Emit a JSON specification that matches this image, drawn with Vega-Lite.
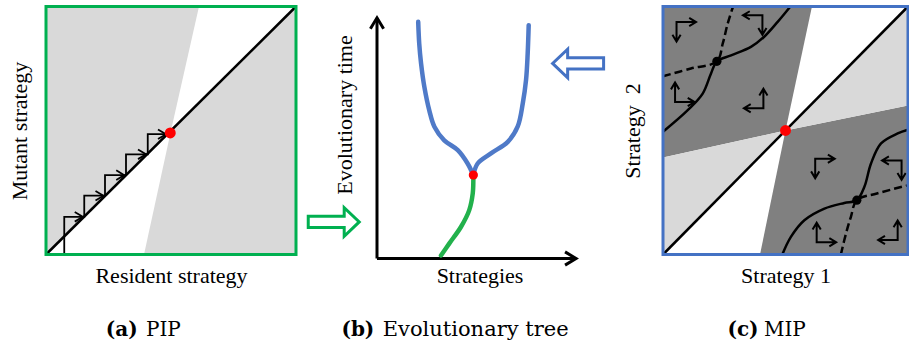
{
  "$schema": "https://vega.github.io/schema/vega-lite/v6.json",
  "background": "white",
  "padding": {"left": 8, "top": 1.5, "right": 0, "bottom": 0},
  "bounds": "flush",
  "spacing": 81,
  "config": {
    "view": {"stroke": null},
    "axis": {"domain": false, "ticks": false, "labels": false, "grid": false, "titleFont": "Liberation Serif, Times New Roman, serif", "titleFontSize": 22, "titleFontWeight": "normal", "titleColor": "black", "titleLimit": 400}
  },
  "datasets": {
    "pipShade": [
      {"g": "L", "i": 0, "x": 0, "y": 0}, {"g": "L", "i": 1, "x": 0, "y": 1}, {"g": "L", "i": 2, "x": 0.612, "y": 1}, {"g": "L", "i": 3, "x": 0.5, "y": 0.5},
      {"g": "R", "i": 0, "x": 0.392, "y": 0}, {"g": "R", "i": 1, "x": 1, "y": 0}, {"g": "R", "i": 2, "x": 1, "y": 1}, {"g": "R", "i": 3, "x": 0.5, "y": 0.5}
    ],
    "diag": [{"x": 0, "y": 0}, {"x": 1, "y": 1}],
    "pipStairs": [
      {"i": 0, "x": 0.073, "y": 0}, {"i": 1, "x": 0.073, "y": 0.152}, {"i": 2, "x": 0.153, "y": 0.152}, {"i": 3, "x": 0.153, "y": 0.237},
      {"i": 4, "x": 0.236, "y": 0.237}, {"i": 5, "x": 0.236, "y": 0.32}, {"i": 6, "x": 0.32, "y": 0.32}, {"i": 7, "x": 0.32, "y": 0.404},
      {"i": 8, "x": 0.407, "y": 0.404}, {"i": 9, "x": 0.407, "y": 0.485}, {"i": 10, "x": 0.48, "y": 0.485}
    ],
    "pipHeads": [
      {"x": 0.147, "y": 0.152}, {"x": 0.23, "y": 0.237}, {"x": 0.313, "y": 0.32}, {"x": 0.4, "y": 0.404}, {"x": 0.48, "y": 0.485}
    ],
    "pipSingular": [{"x": 0.497, "y": 0.49}],
    "treeGreen": [
      {"i": 0, "x": 0.312, "y": 0.012}, {"i": 1, "x": 0.353, "y": 0.06}, {"i": 2, "x": 0.41, "y": 0.126}, {"i": 3, "x": 0.45, "y": 0.192},
      {"i": 4, "x": 0.467, "y": 0.258}, {"i": 5, "x": 0.47, "y": 0.311}, {"i": 6, "x": 0.47, "y": 0.331}
    ],
    "treeBlue": [
      {"b": "L", "i": 0, "x": 0.47, "y": 0.331}, {"b": "L", "i": 1, "x": 0.442, "y": 0.377}, {"b": "L", "i": 2, "x": 0.394, "y": 0.43},
      {"b": "L", "i": 3, "x": 0.328, "y": 0.469}, {"b": "L", "i": 4, "x": 0.28, "y": 0.523}, {"b": "L", "i": 5, "x": 0.255, "y": 0.588},
      {"b": "L", "i": 6, "x": 0.231, "y": 0.681}, {"b": "L", "i": 7, "x": 0.215, "y": 0.774}, {"b": "L", "i": 8, "x": 0.206, "y": 0.853},
      {"b": "L", "i": 9, "x": 0.201, "y": 0.939},
      {"b": "R", "i": 0, "x": 0.47, "y": 0.331}, {"b": "R", "i": 1, "x": 0.491, "y": 0.377}, {"b": "R", "i": 2, "x": 0.556, "y": 0.417},
      {"b": "R", "i": 3, "x": 0.638, "y": 0.463}, {"b": "R", "i": 4, "x": 0.686, "y": 0.523}, {"b": "R", "i": 5, "x": 0.711, "y": 0.615},
      {"b": "R", "i": 6, "x": 0.727, "y": 0.708}, {"b": "R", "i": 7, "x": 0.735, "y": 0.813}, {"b": "R", "i": 8, "x": 0.74, "y": 0.926}
    ],
    "treeAxes": [
      {"g": "v", "i": 0, "x": 0, "y": 0}, {"g": "v", "i": 1, "x": 0, "y": 0.955},
      {"g": "h", "i": 0, "x": 0, "y": 0}, {"g": "h", "i": 1, "x": 0.971, "y": 0}
    ],
    "treeAxisHeads": [{"x": 0, "y": 0.955, "a": 270}, {"x": 0.971, "y": 0, "a": 0}],
    "treeSingular": [{"x": 0.47, "y": 0.331}],
    "greenArrow": [{"x": -0.211, "y": 0.145, "a": 0}],
    "blueArrow": [{"x": 0.981, "y": 0.774, "a": 180}],
    "mipDark": [
      {"g": "UL", "i": 0, "x": 0, "y": 0.391}, {"g": "UL", "i": 1, "x": 0, "y": 1}, {"g": "UL", "i": 2, "x": 0.608, "y": 1}, {"g": "UL", "i": 3, "x": 0.5, "y": 0.5},
      {"g": "LR", "i": 0, "x": 0.396, "y": 0}, {"g": "LR", "i": 1, "x": 1, "y": 0}, {"g": "LR", "i": 2, "x": 1, "y": 0.601}, {"g": "LR", "i": 3, "x": 0.5, "y": 0.5}
    ],
    "mipLight": [
      {"g": "L", "i": 0, "x": 0, "y": 0}, {"g": "L", "i": 1, "x": 0, "y": 0.391}, {"g": "L", "i": 2, "x": 0.5, "y": 0.5},
      {"g": "R", "i": 0, "x": 0.5, "y": 0.5}, {"g": "R", "i": 1, "x": 1, "y": 1}, {"g": "R", "i": 2, "x": 1, "y": 0.601}
    ],
    "mipSolid": [
      {"c": "UL", "i": 0, "x": 0, "y": 0.495}, {"c": "UL", "i": 1, "x": 0.101, "y": 0.582}, {"c": "UL", "i": 2, "x": 0.162, "y": 0.649},
      {"c": "UL", "i": 3, "x": 0.196, "y": 0.73}, {"c": "UL", "i": 4, "x": 0.22, "y": 0.779}, {"c": "UL", "i": 5, "x": 0.278, "y": 0.803},
      {"c": "UL", "i": 6, "x": 0.359, "y": 0.837}, {"c": "UL", "i": 7, "x": 0.413, "y": 0.878}, {"c": "UL", "i": 8, "x": 0.468, "y": 0.938},
      {"c": "UL", "i": 9, "x": 0.52, "y": 1},
      {"c": "LR", "i": 0, "x": 0.487, "y": 0}, {"c": "LR", "i": 1, "x": 0.522, "y": 0.071}, {"c": "LR", "i": 2, "x": 0.577, "y": 0.138},
      {"c": "LR", "i": 3, "x": 0.659, "y": 0.185}, {"c": "LR", "i": 4, "x": 0.74, "y": 0.208}, {"c": "LR", "i": 5, "x": 0.791, "y": 0.219},
      {"c": "LR", "i": 6, "x": 0.822, "y": 0.273}, {"c": "LR", "i": 7, "x": 0.849, "y": 0.367}, {"c": "LR", "i": 8, "x": 0.89, "y": 0.448},
      {"c": "LR", "i": 9, "x": 0.958, "y": 0.488}, {"c": "LR", "i": 10, "x": 1, "y": 0.503}
    ],
    "mipDashed": [
      {"c": "UL", "i": 0, "x": 0, "y": 0.719}, {"c": "UL", "i": 1, "x": 0.114, "y": 0.75}, {"c": "UL", "i": 2, "x": 0.22, "y": 0.779},
      {"c": "UL", "i": 3, "x": 0.244, "y": 0.851}, {"c": "UL", "i": 4, "x": 0.264, "y": 0.931}, {"c": "UL", "i": 5, "x": 0.286, "y": 1},
      {"c": "LR", "i": 0, "x": 0.726, "y": 0}, {"c": "LR", "i": 1, "x": 0.747, "y": 0.085}, {"c": "LR", "i": 2, "x": 0.767, "y": 0.152},
      {"c": "LR", "i": 3, "x": 0.791, "y": 0.219}, {"c": "LR", "i": 4, "x": 0.873, "y": 0.246}, {"c": "LR", "i": 5, "x": 1, "y": 0.279}
    ],
    "mipEquilibria": [{"x": 0.22, "y": 0.779}, {"x": 0.791, "y": 0.219}],
    "mipSingular": [{"x": 0.5, "y": 0.5}],
    "mipGlyphs": [
      {"x": 0.095, "y": 0.898, "a": 90}, {"x": 0.366, "y": 0.925, "a": 180}, {"x": 0.089, "y": 0.654, "a": 0}, {"x": 0.37, "y": 0.629, "a": 270},
      {"x": 0.661, "y": 0.347, "a": 90}, {"x": 0.934, "y": 0.34, "a": 180}, {"x": 0.667, "y": 0.089, "a": 0}, {"x": 0.918, "y": 0.098, "a": 270}
    ],
    "frame": [{"part": "frame"}],
    "capA1": [{"label": "(a)"}], "capA2": [{"label": "PIP"}],
    "capB1": [{"label": "(b)"}], "capB2": [{"label": "Evolutionary tree"}],
    "capC1": [{"label": "(c)"}], "capC2": [{"label": "MIP"}]
  },
  "hconcat": [
    {
      "width": 250,
      "height": 248,
      "layer": [
        {"data": {"name": "pipShade"}, "mark": {"type": "line", "fill": "#d9d9d9", "stroke": null, "strokeWidth": 0, "interpolate": "linear-closed"},
         "encoding": {"x": {"field": "x", "type": "quantitative", "scale": {"domain": [0, 1], "nice": false, "zero": false}, "axis": {"title": "Resident strategy", "titlePadding": 11}},
                      "y": {"field": "y", "type": "quantitative", "scale": {"domain": [0, 1], "nice": false, "zero": false}, "axis": {"title": "Mutant strategy", "titlePadding": 15}},
                      "detail": {"field": "g"}, "order": {"field": "i"}}},
        {"data": {"name": "diag"}, "mark": {"type": "line", "color": "black", "strokeWidth": 2.5},
         "encoding": {"x": {"field": "x", "type": "quantitative", "scale": {"domain": [0, 1], "nice": false, "zero": false}, "axis": {"title": "Resident strategy", "titlePadding": 11}},
                      "y": {"field": "y", "type": "quantitative", "scale": {"domain": [0, 1], "nice": false, "zero": false}, "axis": {"title": "Mutant strategy", "titlePadding": 15}}}},
        {"data": {"name": "pipStairs"}, "mark": {"type": "line", "color": "black", "strokeWidth": 1.8},
         "encoding": {"x": {"field": "x", "type": "quantitative", "scale": {"domain": [0, 1], "nice": false, "zero": false}, "axis": {"title": "Resident strategy", "titlePadding": 11}},
                      "y": {"field": "y", "type": "quantitative", "scale": {"domain": [0, 1], "nice": false, "zero": false}, "axis": {"title": "Mutant strategy", "titlePadding": 15}},
                      "order": {"field": "i"}}},
        {"data": {"name": "pipHeads"}, "mark": {"type": "point", "shape": "M-1,-0.6L0,0L-1,0.6", "size": 256, "filled": false, "stroke": "black", "strokeWidth": 1.8, "opacity": 1},
         "encoding": {"x": {"field": "x", "type": "quantitative", "scale": {"domain": [0, 1], "nice": false, "zero": false}, "axis": {"title": "Resident strategy", "titlePadding": 11}},
                      "y": {"field": "y", "type": "quantitative", "scale": {"domain": [0, 1], "nice": false, "zero": false}, "axis": {"title": "Mutant strategy", "titlePadding": 15}}}},
        {"data": {"name": "pipSingular"}, "mark": {"type": "point", "shape": "circle", "filled": true, "color": "#ff0000", "size": 120, "opacity": 1},
         "encoding": {"x": {"field": "x", "type": "quantitative", "scale": {"domain": [0, 1], "nice": false, "zero": false}, "axis": {"title": "Resident strategy", "titlePadding": 11}},
                      "y": {"field": "y", "type": "quantitative", "scale": {"domain": [0, 1], "nice": false, "zero": false}, "axis": {"title": "Mutant strategy", "titlePadding": 15}}}},
        {"data": {"name": "frame"}, "mark": {"type": "rect", "fill": null, "stroke": "#00b050", "strokeWidth": 3},
         "encoding": {"x": {"datum": 0, "type": "quantitative", "scale": {"domain": [0, 1], "nice": false, "zero": false}, "axis": {"title": "Resident strategy", "titlePadding": 11}},
                      "x2": {"datum": 1},
                      "y": {"datum": 0, "type": "quantitative", "scale": {"domain": [0, 1], "nice": false, "zero": false}, "axis": {"title": "Mutant strategy", "titlePadding": 15}},
                      "y2": {"datum": 1}}},
        {"data": {"name": "capA1"}, "mark": {"type": "text", "font": "DejaVu Serif", "fontSize": 20, "fontWeight": "bold", "align": "right", "baseline": "alphabetic", "color": "black"},
         "encoding": {"text": {"field": "label"},
                      "x": {"datum": 0.367, "type": "quantitative", "scale": {"domain": [0, 1], "nice": false, "zero": false}, "axis": {"title": "Resident strategy", "titlePadding": 11}},
                      "y": {"datum": -0.327, "type": "quantitative", "scale": {"domain": [0, 1], "nice": false, "zero": false}, "axis": {"title": "Mutant strategy", "titlePadding": 15}}}},
        {"data": {"name": "capA2"}, "mark": {"type": "text", "font": "DejaVu Serif", "fontSize": 20, "fontWeight": "normal", "align": "left", "baseline": "alphabetic", "color": "black"},
         "encoding": {"text": {"field": "label"},
                      "x": {"datum": 0.4, "type": "quantitative", "scale": {"domain": [0, 1], "nice": false, "zero": false}, "axis": {"title": "Resident strategy", "titlePadding": 11}},
                      "y": {"datum": -0.327, "type": "quantitative", "scale": {"domain": [0, 1], "nice": false, "zero": false}, "axis": {"title": "Mutant strategy", "titlePadding": 15}}}}
      ]
    },
    {
      "width": 205,
      "height": 252,
      "layer": [
        {"data": {"name": "treeAxes"}, "mark": {"type": "line", "color": "black", "strokeWidth": 3},
         "encoding": {"x": {"field": "x", "type": "quantitative", "scale": {"domain": [0, 1], "nice": false, "zero": false}, "axis": {"title": "Strategies", "titlePadding": 7}},
                      "y": {"field": "y", "type": "quantitative", "scale": {"domain": [0, 1], "nice": false, "zero": false}, "axis": {"title": "Evolutionary time", "titlePadding": 21, "titleY": 108}},
                      "detail": {"field": "g"}, "order": {"field": "i"}}},
        {"data": {"name": "treeAxisHeads"}, "mark": {"type": "point", "shape": "M-1,-0.6L0,0L-1,0.6", "size": 484, "filled": false, "stroke": "black", "strokeWidth": 3, "opacity": 1},
         "encoding": {"x": {"field": "x", "type": "quantitative", "scale": {"domain": [0, 1], "nice": false, "zero": false}, "axis": {"title": "Strategies", "titlePadding": 7}},
                      "y": {"field": "y", "type": "quantitative", "scale": {"domain": [0, 1], "nice": false, "zero": false}, "axis": {"title": "Evolutionary time", "titlePadding": 21, "titleY": 108}},
                      "angle": {"field": "a", "type": "quantitative", "scale": null}}},
        {"data": {"name": "treeGreen"}, "mark": {"type": "line", "color": "#22b14c", "strokeWidth": 4.5, "strokeCap": "round", "interpolate": "catmull-rom"},
         "encoding": {"x": {"field": "x", "type": "quantitative", "scale": {"domain": [0, 1], "nice": false, "zero": false}, "axis": {"title": "Strategies", "titlePadding": 7}},
                      "y": {"field": "y", "type": "quantitative", "scale": {"domain": [0, 1], "nice": false, "zero": false}, "axis": {"title": "Evolutionary time", "titlePadding": 21, "titleY": 108}},
                      "order": {"field": "i"}}},
        {"data": {"name": "treeBlue"}, "mark": {"type": "line", "color": "#4f7ac8", "strokeWidth": 4.5, "strokeCap": "round", "interpolate": "catmull-rom"},
         "encoding": {"x": {"field": "x", "type": "quantitative", "scale": {"domain": [0, 1], "nice": false, "zero": false}, "axis": {"title": "Strategies", "titlePadding": 7}},
                      "y": {"field": "y", "type": "quantitative", "scale": {"domain": [0, 1], "nice": false, "zero": false}, "axis": {"title": "Evolutionary time", "titlePadding": 21, "titleY": 108}},
                      "detail": {"field": "b"}, "order": {"field": "i"}}},
        {"data": {"name": "treeSingular"}, "mark": {"type": "point", "shape": "circle", "filled": true, "color": "#ff0000", "size": 85, "opacity": 1},
         "encoding": {"x": {"field": "x", "type": "quantitative", "scale": {"domain": [0, 1], "nice": false, "zero": false}, "axis": {"title": "Strategies", "titlePadding": 7}},
                      "y": {"field": "y", "type": "quantitative", "scale": {"domain": [0, 1], "nice": false, "zero": false}, "axis": {"title": "Evolutionary time", "titlePadding": 21, "titleY": 108}}}},
        {"data": {"name": "greenArrow"}, "mark": {"type": "point", "shape": "M-1,-0.22L0.41,-0.22L0.41,-0.56L1,0L0.41,0.56L0.41,0.22L-1,0.22Z", "size": 2601, "filled": false, "fill": "white", "stroke": "#00b050", "strokeWidth": 3, "opacity": 1},
         "encoding": {"x": {"field": "x", "type": "quantitative", "scale": {"domain": [0, 1], "nice": false, "zero": false}, "axis": {"title": "Strategies", "titlePadding": 7}},
                      "y": {"field": "y", "type": "quantitative", "scale": {"domain": [0, 1], "nice": false, "zero": false}, "axis": {"title": "Evolutionary time", "titlePadding": 21, "titleY": 108}},
                      "angle": {"field": "a", "type": "quantitative", "scale": null}}},
        {"data": {"name": "blueArrow"}, "mark": {"type": "point", "shape": "M-1,-0.22L0.41,-0.22L0.41,-0.56L1,0L0.41,0.56L0.41,0.22L-1,0.22Z", "size": 2601, "filled": false, "fill": "white", "stroke": "#4472c4", "strokeWidth": 3, "opacity": 1},
         "encoding": {"x": {"field": "x", "type": "quantitative", "scale": {"domain": [0, 1], "nice": false, "zero": false}, "axis": {"title": "Strategies", "titlePadding": 7}},
                      "y": {"field": "y", "type": "quantitative", "scale": {"domain": [0, 1], "nice": false, "zero": false}, "axis": {"title": "Evolutionary time", "titlePadding": 21, "titleY": 108}},
                      "angle": {"field": "a", "type": "quantitative", "scale": null}}},
        {"data": {"name": "capB1"}, "mark": {"type": "text", "font": "DejaVu Serif", "fontSize": 20, "fontWeight": "bold", "align": "right", "baseline": "alphabetic", "color": "black"},
         "encoding": {"text": {"field": "label"},
                      "x": {"datum": -0.013, "type": "quantitative", "scale": {"domain": [0, 1], "nice": false, "zero": false}, "axis": {"title": "Strategies", "titlePadding": 7}},
                      "y": {"datum": -0.306, "type": "quantitative", "scale": {"domain": [0, 1], "nice": false, "zero": false}, "axis": {"title": "Evolutionary time", "titlePadding": 21, "titleY": 108}}}},
        {"data": {"name": "capB2"}, "mark": {"type": "text", "font": "DejaVu Serif", "fontSize": 21, "fontWeight": "normal", "align": "left", "baseline": "alphabetic", "color": "black"},
         "encoding": {"text": {"field": "label"},
                      "x": {"datum": 0.028, "type": "quantitative", "scale": {"domain": [0, 1], "nice": false, "zero": false}, "axis": {"title": "Strategies", "titlePadding": 7}},
                      "y": {"datum": -0.306, "type": "quantitative", "scale": {"domain": [0, 1], "nice": false, "zero": false}, "axis": {"title": "Evolutionary time", "titlePadding": 21, "titleY": 108}}}}
      ]
    },
    {
      "width": 245,
      "height": 248,
      "layer": [
        {"data": {"name": "mipDark"}, "mark": {"type": "line", "fill": "#808080", "stroke": null, "strokeWidth": 0, "interpolate": "linear-closed"},
         "encoding": {"x": {"field": "x", "type": "quantitative", "scale": {"domain": [0, 1], "nice": false, "zero": false}, "axis": {"title": "Strategy 1", "titlePadding": 11}},
                      "y": {"field": "y", "type": "quantitative", "scale": {"domain": [0, 1], "nice": false, "zero": false}, "axis": {"title": "Strategy \u00a02", "titlePadding": 19}},
                      "detail": {"field": "g"}, "order": {"field": "i"}}},
        {"data": {"name": "mipLight"}, "mark": {"type": "line", "fill": "#d9d9d9", "stroke": null, "strokeWidth": 0, "interpolate": "linear-closed"},
         "encoding": {"x": {"field": "x", "type": "quantitative", "scale": {"domain": [0, 1], "nice": false, "zero": false}, "axis": {"title": "Strategy 1", "titlePadding": 11}},
                      "y": {"field": "y", "type": "quantitative", "scale": {"domain": [0, 1], "nice": false, "zero": false}, "axis": {"title": "Strategy \u00a02", "titlePadding": 19}},
                      "detail": {"field": "g"}, "order": {"field": "i"}}},
        {"data": {"name": "diag"}, "mark": {"type": "line", "color": "black", "strokeWidth": 2.5},
         "encoding": {"x": {"field": "x", "type": "quantitative", "scale": {"domain": [0, 1], "nice": false, "zero": false}, "axis": {"title": "Strategy 1", "titlePadding": 11}},
                      "y": {"field": "y", "type": "quantitative", "scale": {"domain": [0, 1], "nice": false, "zero": false}, "axis": {"title": "Strategy \u00a02", "titlePadding": 19}}}},
        {"data": {"name": "mipSolid"}, "mark": {"type": "line", "color": "black", "strokeWidth": 2.5, "interpolate": "catmull-rom"},
         "encoding": {"x": {"field": "x", "type": "quantitative", "scale": {"domain": [0, 1], "nice": false, "zero": false}, "axis": {"title": "Strategy 1", "titlePadding": 11}},
                      "y": {"field": "y", "type": "quantitative", "scale": {"domain": [0, 1], "nice": false, "zero": false}, "axis": {"title": "Strategy \u00a02", "titlePadding": 19}},
                      "detail": {"field": "c"}, "order": {"field": "i"}}},
        {"data": {"name": "mipDashed"}, "mark": {"type": "line", "color": "black", "strokeWidth": 2.5, "strokeDash": [8, 4], "interpolate": "catmull-rom"},
         "encoding": {"x": {"field": "x", "type": "quantitative", "scale": {"domain": [0, 1], "nice": false, "zero": false}, "axis": {"title": "Strategy 1", "titlePadding": 11}},
                      "y": {"field": "y", "type": "quantitative", "scale": {"domain": [0, 1], "nice": false, "zero": false}, "axis": {"title": "Strategy \u00a02", "titlePadding": 19}},
                      "detail": {"field": "c"}, "order": {"field": "i"}}},
        {"data": {"name": "mipGlyphs"}, "mark": {"type": "point", "shape": "M-1,-1L-1,1L1,1M-1.42,-0.3L-1,-1L-0.58,-0.3M0.3,0.58L1,1L0.3,1.42", "size": 380, "filled": false, "stroke": "black", "strokeWidth": 2, "opacity": 1},
         "encoding": {"x": {"field": "x", "type": "quantitative", "scale": {"domain": [0, 1], "nice": false, "zero": false}, "axis": {"title": "Strategy 1", "titlePadding": 11}},
                      "y": {"field": "y", "type": "quantitative", "scale": {"domain": [0, 1], "nice": false, "zero": false}, "axis": {"title": "Strategy \u00a02", "titlePadding": 19}},
                      "angle": {"field": "a", "type": "quantitative", "scale": null}}},
        {"data": {"name": "mipEquilibria"}, "mark": {"type": "point", "shape": "circle", "filled": true, "color": "black", "size": 85, "opacity": 1},
         "encoding": {"x": {"field": "x", "type": "quantitative", "scale": {"domain": [0, 1], "nice": false, "zero": false}, "axis": {"title": "Strategy 1", "titlePadding": 11}},
                      "y": {"field": "y", "type": "quantitative", "scale": {"domain": [0, 1], "nice": false, "zero": false}, "axis": {"title": "Strategy \u00a02", "titlePadding": 19}}}},
        {"data": {"name": "mipSingular"}, "mark": {"type": "point", "shape": "circle", "filled": true, "color": "#ff0000", "size": 120, "opacity": 1},
         "encoding": {"x": {"field": "x", "type": "quantitative", "scale": {"domain": [0, 1], "nice": false, "zero": false}, "axis": {"title": "Strategy 1", "titlePadding": 11}},
                      "y": {"field": "y", "type": "quantitative", "scale": {"domain": [0, 1], "nice": false, "zero": false}, "axis": {"title": "Strategy \u00a02", "titlePadding": 19}}}},
        {"data": {"name": "frame"}, "mark": {"type": "rect", "fill": null, "stroke": "#4472c4", "strokeWidth": 3},
         "encoding": {"x": {"datum": 0, "type": "quantitative", "scale": {"domain": [0, 1], "nice": false, "zero": false}, "axis": {"title": "Strategy 1", "titlePadding": 11}},
                      "x2": {"datum": 1},
                      "y": {"datum": 0, "type": "quantitative", "scale": {"domain": [0, 1], "nice": false, "zero": false}, "axis": {"title": "Strategy \u00a02", "titlePadding": 19}},
                      "y2": {"datum": 1}}},
        {"data": {"name": "capC1"}, "mark": {"type": "text", "font": "DejaVu Serif", "fontSize": 20, "fontWeight": "bold", "align": "right", "baseline": "alphabetic", "color": "black"},
         "encoding": {"text": {"field": "label"},
                      "x": {"datum": 0.39, "type": "quantitative", "scale": {"domain": [0, 1], "nice": false, "zero": false}, "axis": {"title": "Strategy 1", "titlePadding": 11}},
                      "y": {"datum": -0.327, "type": "quantitative", "scale": {"domain": [0, 1], "nice": false, "zero": false}, "axis": {"title": "Strategy \u00a02", "titlePadding": 19}}}},
        {"data": {"name": "capC2"}, "mark": {"type": "text", "font": "DejaVu Serif", "fontSize": 20, "fontWeight": "normal", "align": "left", "baseline": "alphabetic", "color": "black"},
         "encoding": {"text": {"field": "label"},
                      "x": {"datum": 0.412, "type": "quantitative", "scale": {"domain": [0, 1], "nice": false, "zero": false}, "axis": {"title": "Strategy 1", "titlePadding": 11}},
                      "y": {"datum": -0.327, "type": "quantitative", "scale": {"domain": [0, 1], "nice": false, "zero": false}, "axis": {"title": "Strategy \u00a02", "titlePadding": 19}}}}
      ]
    }
  ]
}
